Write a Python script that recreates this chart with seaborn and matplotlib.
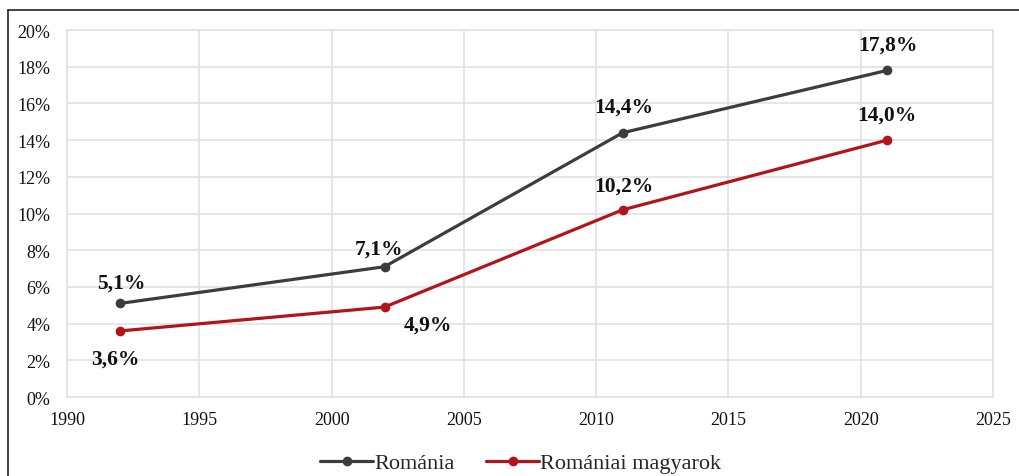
import pandas as pd
import numpy as np
import matplotlib.pyplot as plt
import seaborn as sns
from matplotlib.lines import Line2D
from matplotlib.ticker import FuncFormatter

# data
years = [1992, 2002, 2011, 2021]
romania = [5.1, 7.1, 14.4, 17.8]
magyarok = [3.6, 4.9, 10.2, 14.0]
series_names = ["Románia", "Romániai magyarok"]
colors = ["#3c3c3c", "#b3141c"]

# label offsets in pixels (dx, dy) per series
offsets_ro = [(1, 21), (-6, 18), (1, 26), (1, 26)]
offsets_hu = [(-5, -28), (43, -18), (1, 24), (0, 26)]

def main():
    df = pd.DataFrame({
        "Év": years * 2,
        "Arány": romania + magyarok,
        "Sorozat": [series_names[0]] * len(years) + [series_names[1]] * len(years),
    })

    sns.set_style("white")
    plt.rcParams["font.family"] = ["Liberation Serif", "DejaVu Serif"]

    fig = plt.figure(figsize=(10.19, 4.77), dpi=100)
    ax = fig.add_axes([0.0658, 0.1656, 0.9087, 0.7694])

    sns.lineplot(data=df, x="Év", y="Arány", hue="Sorozat", palette=colors,
                 marker="o", markersize=7, markeredgewidth=0, linewidth=2.3,
                 ax=ax, legend=False)

    ax.set_xlim(1990, 2025)
    ax.set_ylim(0, 20)
    ax.set_xticks(np.arange(1990, 2026, 5))
    ax.set_yticks(np.arange(0, 21, 2))
    ax.yaxis.set_major_formatter(FuncFormatter(lambda v, p: f"{v:.0f}%"))
    ax.grid(True, color="#e2e2e2", linewidth=1.2)
    for s in ax.spines.values():
        s.set_color("#e2e2e2")
        s.set_linewidth(1.2)
    ax.tick_params(axis="both", labelsize=13, length=0, colors="#111111")
    ax.tick_params(axis="x", pad=10)
    ax.tick_params(axis="y", pad=12)
    ax.set_xlabel("")
    ax.set_ylabel("")

    # data labels
    for vals, offs in [(romania, offsets_ro), (magyarok, offsets_hu)]:
        for x, y, (dx, dy) in zip(years, vals, offs):
            ax.annotate(f"{y:.1f}%".replace(".", ","), (x, y),
                        xytext=(dx, dy), textcoords="offset pixels",
                        ha="center", va="center", fontsize=15.5,
                        fontweight="bold", color="#111111")

    handles = [Line2D([0], [0], color=c, linewidth=2.3, marker="o",
                      markersize=7, markeredgewidth=0) for c in colors]
    fig.legend(handles, series_names, loc="center", bbox_to_anchor=(0.511, 0.027),
               ncol=2, frameon=False, fontsize=16, handlelength=2.4,
               handletextpad=0.05, columnspacing=1.4)

    # frame lines at top and left of the picture
    fig.add_artist(Line2D([8 / 1019, 1], [1 - 11 / 477, 1 - 11 / 477],
                          color="#222222", linewidth=1.2))
    fig.add_artist(Line2D([8 / 1019, 8 / 1019], [0, 1 - 11 / 477],
                          color="#222222", linewidth=1.2))

    fig.savefig("out.png", dpi=100)

if __name__ == "__main__":
    main()
